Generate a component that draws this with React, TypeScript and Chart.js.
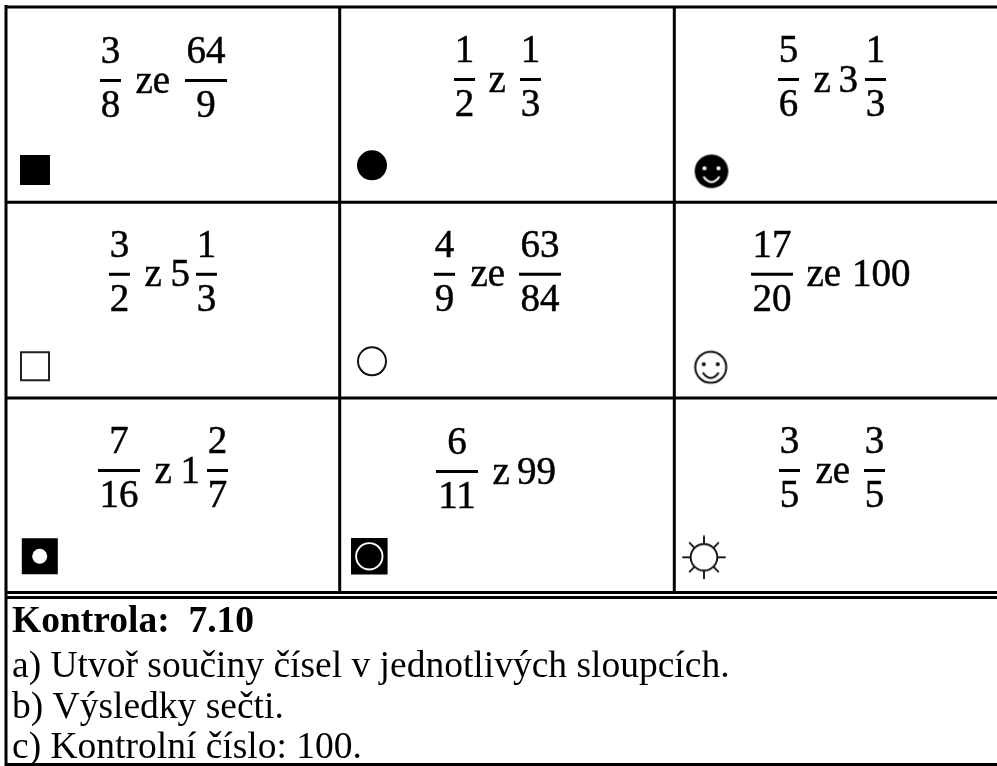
import React, { useEffect, useRef } from "react";
import { Chart, registerables } from "chart.js";

Chart.register(...registerables);

// ---- content ----
const firstNumerators = ["3", "1", "5", "3", "4", "17", "7", "6", "3"];
const firstDenominators = ["8", "2", "6", "2", "9", "20", "16", "11", "5"];
const connectors = ["ze", "z", "z", "z", "ze", "ze", "z", "z", "ze"];
const wholes = ["", "", "3", "5", "", "100", "1", "99", ""];
const secondNumerators = ["64", "1", "1", "1", "63", "", "2", "", "3"];
const secondDenominators = ["9", "3", "3", "3", "84", "", "7", "", "5"];
const footerTitle = "Kontrola:  7.10";
const footerLines = [
  "a) Utvoř součiny čísel v jednotlivých sloupcích.",
  "b) Výsledky sečti.",
  "c) Kontrolní číslo: 100.",
];

// ---- layout, in the picture's own units ----
const bar1X = [[100, 121], [454, 475], [778, 799], [109, 130], [434, 455], [751, 793], [98, 140], [436, 478], [779, 800]];
const bar2X = [[185, 227], [520, 541], [865, 886], [196, 217], [519, 561], null, [207, 228], null, [864, 885]];
const barY = [80.5, 79.5, 79.5, 274.3, 274.3, 274.3, 470.5, 471.5, 470.5];
const connectorX = [135.5, 488.5, 813.5, 144.5, 470.5, 806.5, 154.5, 492.5, 815.5];
const wholeX = [0, 0, 838.5, 170.5, 0, 852, 180.5, 517, 0];
const rows = [
  [0, 1, 2],
  [3, 4, 5],
  [6, 7, 8],
];
const hRules = [7, 202.3, 398, 592.5, 597.5, 764.5];
const vRules: [number, number, number][] = [
  [6, 5, 766],
  [339.7, 7, 592.5],
  [674.3, 7, 592.5],
];

function stamp(size: number, draw: (c: CanvasRenderingContext2D, m: number) => void) {
  const cv = document.createElement("canvas");
  cv.width = size;
  cv.height = size;
  const c = cv.getContext("2d")!;
  draw(c, size / 2);
  return cv;
}

function smiley(filled: boolean) {
  return stamp(40, (c, m) => {
    c.lineWidth = 2;
    c.strokeStyle = filled ? "#fff" : "#111";
    c.fillStyle = "#000";
    c.beginPath();
    c.arc(m, m, filled ? 16.8 : 15.5, 0, Math.PI * 2);
    if (filled) c.fill();
    else c.stroke();
    c.fillStyle = filled ? "#fff" : "#111";
    for (const s of [-1, 1]) {
      c.beginPath();
      c.arc(m + s * 7, m - 3, 2.1, 0, Math.PI * 2);
      c.fill();
    }
    c.beginPath();
    c.moveTo(m - 8, m + 5.3);
    c.quadraticCurveTo(m, m + 16, m + 8, m + 5.3);
    c.stroke();
  });
}

function sun() {
  return stamp(48, (c, m) => {
    c.strokeStyle = "#111";
    c.lineWidth = 1.9;
    c.beginPath();
    c.arc(m, m, 13.3, 0, Math.PI * 2);
    c.stroke();
    for (let i = 0; i < 8; i++) {
      const a = (i * Math.PI) / 4;
      const inner = 13.3;
      const outer = i % 2 === 0 ? 21.7 : 21;
      c.beginPath();
      c.moveTo(m + Math.cos(a) * inner, m + Math.sin(a) * inner);
      c.lineTo(m + Math.cos(a) * outer, m + Math.sin(a) * outer);
      c.stroke();
    }
  });
}

const MATH_FONT = "39px 'Liberation Serif'";
const TITLE_FONT = "bold 37.5px 'Liberation Serif'";
const BODY_FONT = "37.5px 'Liberation Serif'";
const SQ = Math.SQRT2;

const textPlugin = {
  id: "tableText",
  afterDatasetsDraw(chart: any) {
    const { ctx, scales } = chart;
    const X = (v: number) => scales.x.getPixelForValue(v);
    const Y = (v: number) => scales.y.getPixelForValue(v);
    ctx.save();
    ctx.fillStyle = "#000";
    ctx.strokeStyle = "#000";
    ctx.lineWidth = 0.5;
    ctx.textBaseline = "alphabetic";
    ctx.font = MATH_FONT;
    const put = (t: string, x: number, y: number) => {
      ctx.fillText(t, x, y);
      ctx.strokeText(t, x, y);
    };
    rows.forEach((row) =>
      row.forEach((i) => {
        const by = barY[i];
        const numY = by - 17.5;
        const denY = by + 36.5;
        const midY = by + 12;
        const center = (r: number[]) => X((r[0] + r[1]) / 2);
        ctx.textAlign = "center";
        put(firstNumerators[i], center(bar1X[i]), Y(numY));
        put(firstDenominators[i], center(bar1X[i]), Y(denY));
        const b2 = bar2X[i];
        if (b2) {
          put(secondNumerators[i], center(b2), Y(numY));
          put(secondDenominators[i], center(b2), Y(denY));
        }
        ctx.textAlign = "left";
        put(connectors[i], X(connectorX[i]), Y(midY));
        if (wholes[i]) put(wholes[i], X(wholeX[i]), Y(midY));
      })
    );
    ctx.textAlign = "left";
    ctx.font = TITLE_FONT;
    ctx.fillText(footerTitle, X(12), Y(632));
    ctx.font = BODY_FONT;
    footerLines.forEach((t, i) => ctx.fillText(t, X(12), Y(677 + i * 40.5)));
    ctx.restore();
  },
};

function rule(data: { x: number; y: number }[], width = 3) {
  return {
    type: "scatter" as const,
    data,
    showLine: true,
    borderColor: "#000",
    borderWidth: width,
    pointRadius: 0,
    spanGaps: false,
    tension: 0,
  };
}

function mark(x: number, y: number, style: any, radius: number, fill: string, stroke = "transparent", lw = 0, order = 0) {
  return {
    type: "scatter" as const,
    data: [{ x, y }],
    pointStyle: style,
    pointRadius: radius,
    pointBackgroundColor: fill,
    pointBorderColor: stroke,
    pointBorderWidth: lw,
    showLine: false,
    order,
  };
}

export default function App() {
  const ref = useRef<HTMLCanvasElement>(null);
  useEffect(() => {
    const datasets: any[] = [];
    hRules.forEach((y) => datasets.push(rule([{ x: 5, y }, { x: 997, y }])));
    vRules.forEach(([x, a, b]) => datasets.push(rule([{ x, y: a }, { x, y: b }])));
    rows.flat().forEach((i) => {
      const y = barY[i];
      const a = bar1X[i];
      datasets.push(rule([{ x: a[0], y }, { x: a[1], y }]));
      const b = bar2X[i];
      if (b) datasets.push(rule([{ x: b[0], y }, { x: b[1], y }]));
    });
    datasets.push(
      mark(35, 170, "rect", 15 * SQ, "#000"),
      mark(372, 165.3, "circle", 15, "#000"),
      mark(711.5, 171.3, smiley(true), 20, "#000"),
      mark(35, 366.3, "rect", 14 * SQ, "#fff", "#222", 2),
      mark(372, 361.3, "circle", 14, "#fff", "#111", 2),
      mark(710.7, 367.2, smiley(false), 20, "#000"),
      mark(39.8, 556.3, "rect", 18 * SQ, "#000", "transparent", 0, 2),
      mark(39.7, 556.3, "circle", 7.5, "#fff", "transparent", 0, 1),
      mark(369.3, 556.3, "rect", 18.3 * SQ, "#000", "transparent", 0, 2),
      mark(369.3, 556.3, "circle", 13.2, "#000", "#fff", 1.9, 1),
      mark(704, 557.3, sun(), 24, "#000")
    );
    const chart = new Chart(ref.current!, {
      type: "scatter",
      data: { datasets },
      options: {
        animation: false,
        responsive: false,
        events: [],
        layout: { padding: 0, autoPadding: false },
        plugins: { legend: { display: false }, tooltip: { enabled: false }, title: { display: false } },
        scales: {
          x: { type: "linear", min: 0, max: 997, display: false },
          y: { type: "linear", min: 0, max: 766, reverse: true, display: false },
        },
      },
      plugins: [textPlugin],
    } as any);
    return () => chart.destroy();
  }, []);
  return (
    <div style={{ position: "absolute", left: 0, top: 0, width: 997, height: 766, background: "#fff" }}>
      <canvas ref={ref} width={997} height={766} style={{ display: "block" }} />
    </div>
  );
}
